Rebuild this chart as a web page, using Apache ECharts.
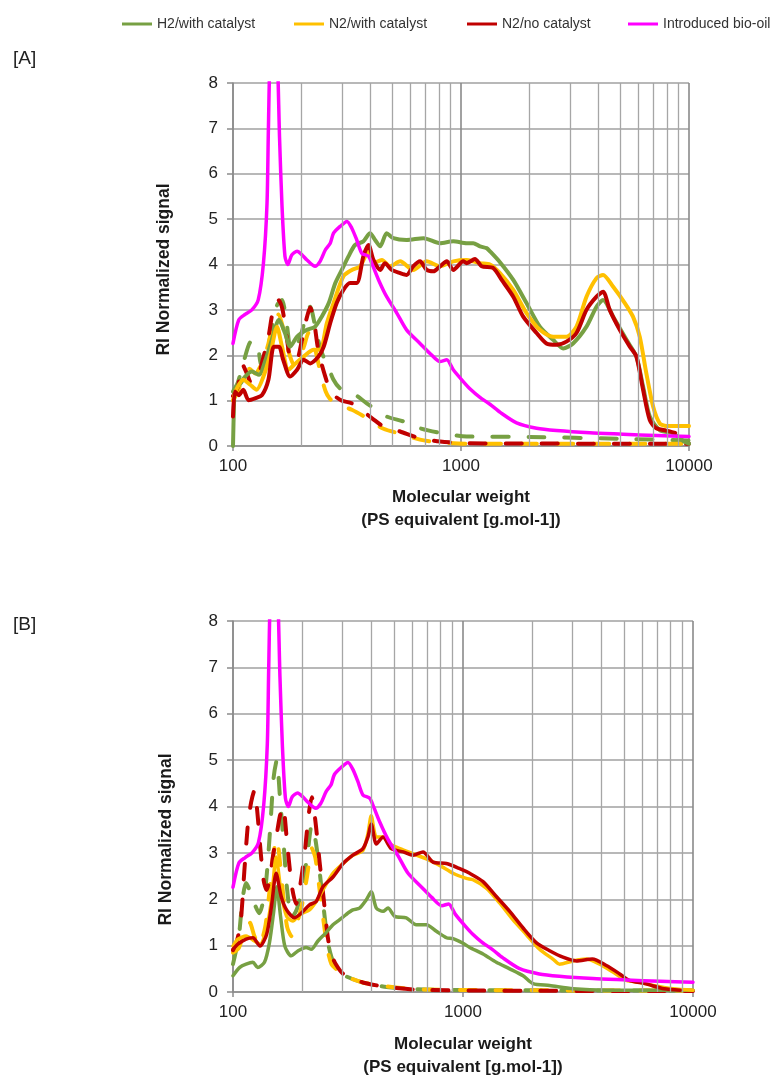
<!DOCTYPE html>
<html>
<head>
<meta charset="utf-8">
<script src="https://cdn.jsdelivr.net/npm/echarts@6/dist/echarts.min.js"></script>
<style>html,body{margin:0;padding:0;background:#fff}#c{width:774px;height:1080px}</style>
</head>
<body>
<div id="c"></div>
<script>
// ---- names ----
const seriesNames = ['H2/with catalyst', 'N2/with catalyst', 'N2/no catalyst', 'Introduced bio-oil'];
const xTicks = [100, 1000, 10000];
const minorTicks = [200,300,400,500,600,700,800,900,2000,3000,4000,5000,6000,7000,8000,9000];

// ---- shared: introduced bio-oil [MW, signal] ----
const bioOil = [[100,2.26],[106,2.78],[113,2.9],[121,3.0],[129,3.22],[136,4.03],[141,5.35],[143,7.0],[146,8.8],[152,9.2],[156,8.8],[160,6.8],[164,5.3],[169,4.18],[174,4.0],[181,4.21],[191,4.29],[201,4.21],[211,4.1],[229,3.96],[241,4.07],[254,4.32],[267,4.47],[276,4.69],[295,4.84],[316,4.95],[332,4.8],[349,4.54],[367,4.25],[393,4.18],[406,4.03],[435,3.66],[472,3.29],[523,2.93],[577,2.56],[661,2.26],[731,2.04],[809,1.86],[866,1.9],[925,1.68],[1023,1.42],[1100,1.25],[1211,1.07],[1340,0.92],[1487,0.74],[1753,0.51],[2145,0.39],[2623,0.34],[3672,0.29],[5138,0.26],[7189,0.23],[10000,0.21]];

// ---- panel A ----
const aH2 = [[100,0],[101,0.9],[102,1.24],[108,1.38],[113,1.53],[121,1.64],[130,1.57],[139,1.9],[148,2.34],[159,2.78],[169,2.49],[178,2.19],[191,2.41],[211,2.56],[229,2.63],[245,2.85],[263,3.15],[281,3.59],[300,3.88],[321,4.18],[343,4.43],[373,4.51],[399,4.69],[420,4.54],[442,4.4],[472,4.69],[505,4.58],[577,4.54],[685,4.58],[809,4.47],[925,4.51],[1059,4.47],[1132,4.47],[1211,4.4],[1295,4.36],[1340,4.29],[1482,4.05],[1695,3.66],[1938,3.15],[2217,2.63],[2536,2.34],[2807,2.15],[3101,2.26],[3551,2.63],[3930,3.07],[4200,3.22],[4650,2.85],[5320,2.34],[5880,1.97],[6290,1.31],[6730,0.65],[7440,0.35],[8510,0.28],[9500,0.1],[10000,0.05]];
const aN2cat = [[100,1.01],[104,1.27],[111,1.46],[119,1.35],[127,1.24],[136,1.53],[146,2.04],[156,2.63],[164,2.19],[175,1.68],[188,1.82],[204,1.97],[226,2.12],[241,2.12],[258,2.71],[276,3.15],[305,3.74],[332,3.88],[361,3.96],[393,4.29],[413,4.03],[450,4.1],[488,3.96],[541,4.07],[617,3.88],[707,4.07],[809,3.96],[925,4.07],[1059,4.1],[1132,4.07],[1211,4.03],[1340,4.0],[1482,3.81],[1695,3.44],[1938,2.93],[2217,2.56],[2536,2.41],[2900,2.41],[3210,2.63],[3551,3.29],[3930,3.7],[4200,3.77],[4650,3.51],[5230,3.15],[5680,2.85],[6080,2.41],[6500,1.6],[6960,0.87],[7440,0.5],[7950,0.44],[10000,0.44]];
const aN2no = [[100,0.65],[102,1.2],[106,1.12],[111,1.24],[117,1.01],[125,1.05],[134,1.12],[143,1.46],[151,2.19],[159,2.19],[166,1.9],[178,1.53],[191,1.68],[204,1.9],[218,1.82],[237,1.97],[250,2.19],[267,2.71],[285,3.15],[305,3.44],[326,3.59],[349,3.59],[373,4.18],[393,4.43],[413,4.1],[442,3.88],[464,4.03],[497,3.88],[541,3.81],[577,3.77],[617,3.96],[661,4.07],[707,3.88],[757,3.85],[809,3.96],[866,4.07],[925,3.88],[1023,4.07],[1059,4.03],[1151,4.12],[1232,3.96],[1386,3.92],[1508,3.66],[1695,3.29],[1874,2.85],[2145,2.49],[2370,2.26],[2623,2.23],[2900,2.3],[3210,2.49],[3551,3.0],[3930,3.29],[4200,3.4],[4490,3.0],[4970,2.56],[5500,2.19],[5880,1.97],[6290,1.24],[6730,0.57],[7190,0.39],[7950,0.34],[8700,0.29]];
const aH2dash = [[100,1.2],[105,1.4],[112,1.9],[120,2.3],[127,2.3],[133,1.8],[140,2.0],[148,2.6],[156,3.1],[164,3.22],[172,2.7],[180,2.1],[190,2.2],[200,2.5],[210,2.9],[218,3.07],[228,2.7],[240,2.2],[250,1.95],[258,1.82],[276,1.46],[295,1.27],[337,1.16],[386,0.94],[472,0.65],[560,0.54],[661,0.39],[809,0.29],[1059,0.21],[2000,0.2],[5000,0.16],[10000,0.12]];
const aN2catDash = [[100,1.0],[105,1.2],[110,1.5],[118,1.7],[125,1.6],[133,1.8],[142,2.2],[150,2.7],[158,2.9],[166,2.6],[175,2.1],[185,1.8],[195,1.9],[205,2.2],[215,2.5],[225,2.3],[235,1.9],[245,1.5],[255,1.2],[265,1.05],[280,0.95],[300,0.88],[332,0.8],[373,0.66],[410,0.52],[457,0.38],[541,0.27],[661,0.14],[809,0.08],[1059,0.05],[10000,0.05]];
const aN2noDash = [[100,1.1],[105,1.3],[110,1.8],[115,1.6],[120,1.4],[128,1.5],[135,1.9],[143,2.4],[150,3.0],[158,3.22],[165,3.0],[172,2.4],[180,1.9],[190,1.9],[200,2.3],[210,2.8],[218,3.05],[226,2.8],[235,2.2],[245,1.8],[254,1.53],[265,1.25],[280,1.1],[300,1.0],[332,0.94],[373,0.76],[410,0.6],[457,0.43],[541,0.32],[661,0.17],[809,0.1],[1059,0.06],[10000,0.05]];

// ---- panel B ----
const bH2 = [[100,0.35],[107,0.53],[114,0.6],[122,0.64],[128,0.53],[137,0.64],[144,1.06],[150,1.7],[155,2.27],[161,1.63],[168,0.99],[179,0.78],[192,0.89],[208,0.96],[219,0.92],[234,1.1],[254,1.28],[272,1.45],[291,1.56],[310,1.67],[332,1.77],[355,1.81],[380,1.99],[399,2.16],[420,1.81],[449,1.74],[472,1.81],[505,1.63],[567,1.6],[626,1.45],[693,1.45],[766,1.31],[847,1.17],[905,1.15],[1000,1.05],[1069,0.96],[1222,0.82],[1396,0.64],[1596,0.5],[1825,0.35],[2015,0.18],[2380,0.14],[3010,0.07],[4200,0.04],[10000,0.04]];
const bN2cat = [[100,0.99],[105,1.14],[114,1.21],[124,1.1],[131,1.03],[140,1.38],[147,1.99],[154,2.91],[162,2.13],[171,1.63],[182,1.53],[195,1.67],[215,1.77],[230,1.95],[246,2.2],[272,2.56],[301,2.77],[332,2.95],[367,3.05],[386,3.41],[399,3.8],[420,3.34],[449,3.34],[480,3.19],[532,3.09],[607,2.98],[693,2.87],[792,2.73],[905,2.56],[1034,2.45],[1105,2.42],[1263,2.24],[1443,1.92],[1648,1.56],[1884,1.24],[2153,0.92],[2460,0.71],[2630,0.6],[3010,0.67],[3430,0.71],[3930,0.6],[4490,0.43],[5130,0.25],[5860,0.21],[6700,0.14],[8180,0.07],[10000,0.04]];
const bN2no = [[100,0.92],[105,1.03],[114,1.14],[122,1.17],[131,0.99],[140,1.24],[147,1.85],[154,2.56],[162,2.06],[171,1.77],[185,1.6],[198,1.7],[215,1.88],[230,1.95],[246,2.27],[272,2.48],[301,2.77],[332,2.95],[367,3.09],[386,3.34],[399,3.62],[420,3.19],[449,3.34],[488,3.09],[550,3.02],[607,2.95],[670,3.02],[741,2.8],[847,2.77],[968,2.66],[1069,2.56],[1222,2.38],[1396,2.06],[1596,1.74],[1825,1.38],[2087,1.06],[2380,0.89],[2720,0.75],[3110,0.67],[3650,0.71],[4200,0.57],[4800,0.39],[5280,0.25],[6180,0.18],[7500,0.07],[8800,0.04]];
const bH2dash = [[100,0.6],[106,1.2],[110,2.0],[114,2.35],[118,2.2],[124,1.9],[130,1.7],[138,2.2],[145,3.5],[150,4.6],[155,5.0],[160,4.2],[166,3.2],[172,2.2],[180,1.6],[190,1.8],[200,2.3],[210,2.9],[220,3.6],[228,3.3],[238,2.6],[248,1.8],[258,1.1],[268,0.75],[280,0.55],[300,0.38],[330,0.28],[370,0.2],[465,0.11],[626,0.06],[1200,0.04],[10000,0.03]];
const bN2catDash = [[100,0.85],[106,0.95],[112,1.3],[118,1.5],[124,1.2],[130,1.0],[138,1.4],[145,2.3],[150,3.0],[155,3.3],[160,2.8],[166,2.0],[172,1.4],[180,1.2],[190,1.5],[200,1.9],[210,2.5],[220,3.1],[228,2.9],[238,2.2],[248,1.5],[258,0.9],[268,0.6],[280,0.5],[300,0.38],[330,0.28],[370,0.2],[465,0.12],[626,0.06],[1200,0.04],[10000,0.03]];
const bN2noDash = [[100,0.9],[104,1.1],[108,1.5],[112,2.6],[116,3.6],[120,4.1],[124,4.35],[128,3.8],[132,3.0],[136,2.4],[140,2.2],[145,2.5],[150,3.0],[155,3.4],[160,3.8],[165,4.0],[172,3.2],[180,2.3],[188,1.9],[196,2.3],[205,3.0],[213,3.8],[220,4.2],[228,3.7],[238,2.8],[248,2.0],[258,1.2],[268,0.8],[280,0.6],[300,0.4],[330,0.3],[370,0.2],[465,0.11],[626,0.05],[1200,0.03],[10000,0.02]];

const COLORS = ['#77a043', '#ffc000', '#c00000', '#ff00ff'];
const FONT = '"Liberation Sans", Arial, sans-serif';

const chart = echarts.init(document.getElementById('c'), null, {renderer: 'canvas', width: 774, height: 1080});

function xAxisDef(gi, gap) {
  return {
    type: 'log', logBase: 10, min: 100, max: 10000, gridIndex: gi,
    name: 'Molecular weight\n(PS equivalent [g.mol-1])',
    nameLocation: 'middle', nameGap: gap,
    nameTextStyle: {fontFamily: FONT, fontSize: 17, fontWeight: 'bold', color: '#1a1a1a', lineHeight: 23},
    axisLine: {show: true, lineStyle: {color: '#8c8c8c', width: 1.5}},
    axisTick: {show: true, length: 5, inside: false, lineStyle: {color: '#8c8c8c', width: 1.5}},
    axisLabel: {fontFamily: FONT, fontSize: 17, color: '#222', margin: 12,
      formatter: v => (xTicks.indexOf(Math.round(v)) >= 0 ? String(Math.round(v)) : '')},
    splitLine: {show: true, lineStyle: {color: '#8a8a8a', width: 1.6}},
    minorTick: {show: false}, minorSplitLine: {show: false}
  };
}
function yAxisDef(gi, gap, pad, fs) {
  return {
    type: 'value', min: 0, max: 8, interval: 1, gridIndex: gi,
    name: 'RI Normalized signal', nameLocation: 'middle', nameGap: gap, nameRotate: 90,
    nameTextStyle: {fontFamily: FONT, fontSize: fs, fontWeight: 'bold', color: '#1a1a1a', padding: pad},
    axisLine: {show: true, lineStyle: {color: '#8c8c8c', width: 1.5}},
    axisTick: {show: true, length: 6, inside: false, lineStyle: {color: '#8c8c8c', width: 1.5}},
    axisLabel: {fontFamily: FONT, fontSize: 17, color: '#222', margin: 15},
    splitLine: {show: true, lineStyle: {color: '#a0a0a0', width: 1.5}}
  };
}

function solid(name, data, color, gi, w) {
  return {type: 'line', name: name, data: data, xAxisIndex: gi, yAxisIndex: gi,
    showSymbol: false, symbol: 'none', smooth: 0.25, clip: true, z: 4,
    lineStyle: {color: color, width: w, join: 'round', cap: 'round'}, itemStyle: {color: color}};
}
function dashed(name, data, color, gi, w) {
  return {type: 'line', name: name + ' ', data: data, xAxisIndex: gi, yAxisIndex: gi,
    showSymbol: false, symbol: 'none', smooth: 0.25, clip: true, z: 3,
    lineStyle: {color: color, width: w, type: [16, 20], cap: 'round', join: 'round'}, itemStyle: {color: color}};
}
function minorGrid(gi) {
  return {type: 'line', name: 'minor' + gi, data: [], xAxisIndex: gi, yAxisIndex: gi,
    showSymbol: false, silent: true, z: 1,
    markLine: {silent: true, symbol: ['none', 'none'], animation: false, label: {show: false},
      lineStyle: {color: '#a6a6a6', width: 1.3, type: 'solid'},
      data: minorTicks.map(v => ({xAxis: v}))}};
}

const legendLefts = [117, 289, 462, 623];
const legends = seriesNames.map((n, i) => ({
  data: [n], left: legendLefts[i], top: 12, icon: 'rect', itemWidth: 30, itemHeight: 3,
  textStyle: {fontFamily: FONT, fontSize: 14, color: '#333'}, selectedMode: false
}));

const option = {
  animation: false,
  backgroundColor: '#fff',
  title: [
    {text: '[A]', left: 8, top: 44, textStyle: {fontFamily: FONT, fontSize: 19, fontWeight: 'normal', color: '#222'}},
    {text: '[B]', left: 8, top: 610, textStyle: {fontFamily: FONT, fontSize: 19, fontWeight: 'normal', color: '#222'}}
  ],
  legend: legends,
  grid: [
    {left: 233, top: 83, width: 456, height: 363},
    {left: 233, top: 621, width: 460, height: 376}
  ],
  xAxis: [xAxisDef(0, 40), xAxisDef(1, 41)],
  yAxis: [yAxisDef(0, 60, [0, 10, 0, 0], 17.5), yAxisDef(1, 58, [0, 66, 0, 0], 17.5)],
  series: [
    minorGrid(0), minorGrid(1),
    dashed(seriesNames[0], aH2dash, COLORS[0], 0, 4),
    dashed(seriesNames[1], aN2catDash, COLORS[1], 0, 4),
    dashed(seriesNames[2], aN2noDash, COLORS[2], 0, 4),
    solid(seriesNames[0], aH2, COLORS[0], 0, 4),
    solid(seriesNames[1], aN2cat, COLORS[1], 0, 4),
    solid(seriesNames[2], aN2no, COLORS[2], 0, 4),
    solid(seriesNames[3], bioOil, COLORS[3], 0, 3.5),
    dashed(seriesNames[0], bH2dash, COLORS[0], 1, 4),
    dashed(seriesNames[1], bN2catDash, COLORS[1], 1, 4),
    dashed(seriesNames[2], bN2noDash, COLORS[2], 1, 4),
    solid(seriesNames[0], bH2, COLORS[0], 1, 3.5),
    solid(seriesNames[1], bN2cat, COLORS[1], 1, 3.5),
    solid(seriesNames[2], bN2no, COLORS[2], 1, 3.5),
    solid(seriesNames[3], bioOil, COLORS[3], 1, 3.5)
  ]
};
chart.setOption(option);
</script>
</body>
</html>
